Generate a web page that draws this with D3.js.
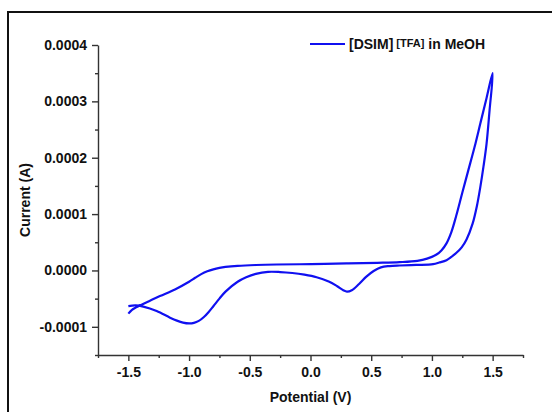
<!DOCTYPE html>
<html>
<head>
<meta charset="utf-8">
<script src="https://cdn.jsdelivr.net/npm/d3@7"></script>
<style>
  body { margin: 0; background: #fff; }
  text { font-family: "Liberation Sans", Arial, sans-serif; font-weight: bold; fill: #111; }
</style>
</head>
<body>
<div id="chart"></div>
<script>
// forward scan: -1.5 V -> +1.5 V
var forwardV = [-1.500, -1.470, -1.440, -1.415, -1.330, -1.240, -1.116, -1.000, -0.950, -0.900,
                -0.850, -0.800, -0.750, -0.700, -0.600, -0.450, -0.279, 0.005, 0.297, 0.550,
                0.735, 0.880, 0.960, 1.038, 1.080, 1.120, 1.160, 1.200, 1.250, 1.300,
                1.350, 1.400, 1.450, 1.500];
var forwardI = [-0.0000766, -0.0000700, -0.0000660, -0.0000632, -0.0000545, -0.0000455, -0.0000336, -0.0000200, -0.0000130, -0.0000065,
                -0.0000015, 0.0000020, 0.0000045, 0.0000062, 0.0000082, 0.0000097, 0.0000106, 0.0000112, 0.0000124, 0.0000135,
                0.0000147, 0.0000170, 0.0000210, 0.0000283, 0.0000360, 0.0000480, 0.0000680, 0.0000970, 0.0001380, 0.0001780,
                0.0002180, 0.0002620, 0.0003060, 0.0003500];

// reverse scan: +1.5 V -> -1.5 V
var reverseV = [1.475, 1.450, 1.425, 1.400, 1.370, 1.335, 1.285, 1.245, 1.202, 1.160,
                1.120, 1.060, 1.010, 0.870, 0.735, 0.650, 0.580, 0.520, 0.460, 0.400,
                0.340, 0.300, 0.270, 0.220, 0.150, 0.050, -0.050, -0.150, -0.250, -0.350,
                -0.450, -0.530, -0.600, -0.700, -0.750, -0.800, -0.840, -0.880, -0.920, -0.960,
                -1.000, -1.050, -1.100, -1.157, -1.267, -1.377, -1.440, -1.500];
var reverseI = [0.000285, 0.000225, 0.000185, 0.000150, 0.000114, 0.000083, 0.0000550, 0.0000410, 0.0000313, 0.0000240,
                0.0000182, 0.0000140, 0.0000112, 0.0000098, 0.0000088, 0.0000078, 0.0000055, -0.0000010, -0.0000110, -0.0000240,
                -0.0000350, -0.0000375, -0.0000350, -0.0000280, -0.0000195, -0.0000120, -0.0000075, -0.0000045, -0.0000028, -0.0000025,
                -0.0000060, -0.0000120, -0.0000200, -0.0000375, -0.0000500, -0.0000635, -0.0000740, -0.0000830, -0.0000895, -0.0000930,
                -0.0000940, -0.0000925, -0.0000890, -0.0000837, -0.0000720, -0.0000642, -0.0000620, -0.0000632];

var xTicks = [-1.5, -1.0, -0.5, 0.0, 0.5, 1.0, 1.5];
var yTicks = [-0.0001, 0.0000, 0.0001, 0.0002, 0.0003, 0.0004];
var seriesName = "[DSIM]";
var seriesSup = "[TFA]";
var seriesTail = " in MeOH";

var width = 552,
    height = 412;
var plotLeft = 98, plotRight = 523, plotTop = 45, plotBottom = 355;

var svg = d3.select("#chart")
        .append("svg")
        .attr("width", width)
        .attr("height", height);

// outer frame
svg.append("rect")
        .attr("x", 8)
        .attr("y", 12)
        .attr("width", 600)
        .attr("height", 500)
        .attr("fill", "none")
        .attr("stroke", "#111")
        .attr("stroke-width", 2);

var x = d3.scaleLinear().domain([-1.75, 1.75]).range([plotLeft, plotRight]);
var y = d3.scaleLinear().domain([-0.00015, 0.0004]).range([plotBottom, plotTop]);

var axisColor = "#333";

// hyphen instead of unicode minus
function fmt(spec) {
    var f = d3.format(spec);
    return function (d) {
        return f(d).replace("\u2212", "-");
    };
}

//Axes

svg.append("g")
        .attr("transform", "translate(0," + plotBottom + ")")
        .call(d3.axisBottom(x)
                .tickValues(xTicks)
                .tickSize(6)
                .tickSizeOuter(0)
                .tickPadding(6)
                .tickFormat(fmt(".1f")));

svg.append("g")
        .attr("transform", "translate(0," + plotBottom + ")")
        .call(d3.axisBottom(x)
                .tickValues(d3.range(-1.75, 1.76, 0.5))
                .tickSize(3)
                .tickSizeOuter(0)
                .tickFormat(""))
        .select(".domain").remove();

svg.append("g")
        .attr("transform", "translate(" + plotLeft + ",0)")
        .call(d3.axisLeft(y)
                .tickValues(yTicks)
                .tickSize(6)
                .tickSizeOuter(0)
                .tickPadding(5)
                .tickFormat(fmt(".4f")));

svg.append("g")
        .attr("transform", "translate(" + plotLeft + ",0)")
        .call(d3.axisLeft(y)
                .tickValues([-0.00015, -0.00005, 0.00005, 0.00015, 0.00025, 0.00035])
                .tickSize(3)
                .tickSizeOuter(0)
                .tickFormat(""))
        .select(".domain").remove();

svg.selectAll(".domain, .tick line")
        .attr("stroke", axisColor)
        .attr("stroke-width", 1.4);

svg.selectAll(".tick text")
        .attr("font-size", "14px")
        .attr("fill", "#111")
        .style("font-family", "'Liberation Sans', Arial, sans-serif")
        .style("font-weight", "bold");

//Titles

svg.append("text")
        .attr("x", (plotLeft + plotRight) / 2)
        .attr("y", 402)
        .attr("text-anchor", "middle")
        .attr("font-size", "14px")
        .text("Potential (V)");

svg.append("text")
        .attr("transform", "translate(30," + (plotTop + plotBottom) / 2 + ") rotate(-90)")
        .attr("text-anchor", "middle")
        .attr("font-size", "14px")
        .text("Current (A)");

//Curve

var points = [];
forwardV.forEach(function (v, i) {
    points.push([v, forwardI[i]]);
});
reverseV.forEach(function (v, i) {
    points.push([v, reverseI[i]]);
});

var line = d3.line()
        .x(function (d) {
            return x(d[0]);
        })
        .y(function (d) {
            return y(d[1]);
        })
        .curve(d3.curveCatmullRom.alpha(0.5));

svg.append("path")
        .datum(points)
        .attr("d", line)
        .attr("fill", "none")
        .attr("stroke", "#1010f0")
        .attr("stroke-width", 2.2)
        .attr("stroke-linejoin", "round");

//Legend

svg.append("line")
        .attr("x1", 310)
        .attr("x2", 345)
        .attr("y1", 44)
        .attr("y2", 44)
        .attr("stroke", "#1010f0")
        .attr("stroke-width", 2);

var legendText = svg.append("text")
        .attr("x", 349)
        .attr("y", 49)
        .attr("font-size", "14px");
legendText.append("tspan").text(seriesName);
legendText.append("tspan")
        .attr("dx", 3)
        .attr("dy", -2)
        .attr("font-size", "11px")
        .text(seriesSup);
legendText.append("tspan")
        .attr("dy", 2)
        .text(seriesTail);
</script>
</body>
</html>
